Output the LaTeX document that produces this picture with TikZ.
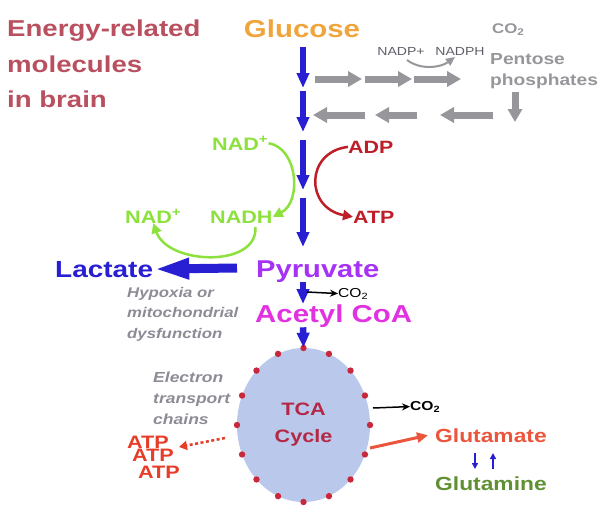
\documentclass[tikz,border=0pt]{standalone}
\usepackage{fontspec}
\setmainfont[FakeStretch=1.2]{Liberation Sans}
\usetikzlibrary{arrows.meta,shapes.geometric}

\definecolor{titlered}{RGB}{185,80,95}
\definecolor{glucorange}{RGB}{240,165,60}
\definecolor{pathblue}{RGB}{40,30,210}
\definecolor{ppgray}{RGB}{150,150,155}
\definecolor{ppdark}{RGB}{95,95,105}
\definecolor{nadgreen}{RGB}{140,225,60}
\definecolor{adpred}{RGB}{190,30,40}
\definecolor{pyrpurple}{RGB}{165,50,245}
\definecolor{acetylpink}{RGB}{225,50,225}
\definecolor{notegray}{RGB}{140,140,150}
\definecolor{tcafill}{RGB}{185,200,235}
\definecolor{tcadot}{RGB}{200,40,60}
\definecolor{tcatext}{RGB}{180,40,70}
\definecolor{atporange}{RGB}{230,60,40}
\definecolor{glutred}{RGB}{235,85,60}
\definecolor{glutgreen}{RGB}{95,145,50}

\newcommand{\fsz}[2]{\fontsize{#1}{#2}\selectfont}

\tikzset{
	txt/.style={inner sep=0pt, font=\bfseries},
	bluearr/.style={draw=pathblue, line width=6.5pt, -{Triangle[width=12pt,length=15pt]}},
	grayarr/.style={draw=ppgray, line width=7pt, -{Triangle[width=15pt,length=14pt]}},
	curvearr/.style={line width=2.5pt, -{Triangle[width=10pt,length=10pt]}},
	thinarr/.style={line width=1.5pt, -{Stealth[width=7pt,length=8pt]}}
}

\begin{document}
\begin{tikzpicture}[x=1pt, y=-1pt]
	\useasboundingbox (0,0) rectangle (605,512);
	
	% Title
	\node[txt, titlered, anchor=north west, align=left, font=\bfseries\fsz{23}{35.5}] (title) at (7,20)
		{Energy-related\\molecules\\in brain};
	
	% Glucose and the blue column
	\node[txt, glucorange, anchor=base, font=\bfseries\fsz{24.5}{28}] (glucose) at (302,37) {Glucose};
	\coordinate (col) at (303,0);
	\coordinate (b1) at (303,47);
	\coordinate (b2) at (303,88);
	\coordinate (b3) at (303,91);
	\coordinate (b4) at (303,132);
	\coordinate (b5) at (303,140);
	\coordinate (b6) at (303,190);
	\coordinate (b7) at (303,198);
	\coordinate (b8) at (303,247);
	\draw[bluearr] (b1) -- (b2);
	\draw[bluearr] (b3) -- (b4);
	\draw[bluearr] (b5) -- (b6);
	\draw[bluearr] (b7) -- (b8);
	
	% Pentose phosphate shunt
	\foreach \x in {315,365,414} {
		\draw[grayarr] (\x,79) -- ++(47,0);
	}
	\foreach \x/\y in {365/313, 417/375, 493/440} {
		\draw[grayarr] (\x,115) -- (\y,115);
	}
	\node[txt, ppdark, anchor=base, font=\fsz{11.7}{14}] (nadp) at (401,55) {NADP+};
	\node[txt, ppdark, anchor=base, font=\fsz{11.7}{14}] (nadph) at (460,55) {NADPH};
	\draw[ppgray, line width=2pt, -{Triangle[width=8pt,length=9pt]}]
		(407,60) .. controls (420,70) and (440,68) .. (455,57);
	\node[txt, ppgray, anchor=base west, font=\bfseries\fsz{14}{16}] (co2pp) at (492,33) {CO\textsubscript{2}};
	\node[txt, ppgray, anchor=north west, align=left, font=\bfseries\fsz{16}{21}] (pentose) at (490,53.5)
		{Pentose\\phosphates};
	\draw[draw=ppgray, line width=7pt, -{Triangle[width=14pt,length=13pt]}] (515,92) -- (515,122);
	
	% NAD+/NADH and ADP/ATP
	\node[txt, nadgreen, anchor=base west, font=\bfseries\fsz{18}{20}] (nadtop) at (212,150) {NAD\textsuperscript{+}};
	\node[txt, nadgreen, anchor=base west, font=\bfseries\fsz{18}{20}] (nadh) at (210,223) {NADH};
	\node[txt, nadgreen, anchor=base west, font=\bfseries\fsz{18}{20}] (nadleft) at (125,223) {NAD\textsuperscript{+}};
	\draw[curvearr, nadgreen] (nadtop.east) .. controls (298,148) and (302,202) .. (nadh.east);
	\draw[curvearr, nadgreen] (nadh.south) ++(14,4) .. controls (258,268) and (168,265) .. (nadleft.south);
	\node[txt, adpred, anchor=base west, font=\bfseries\fsz{17.8}{20}] (adp) at (348,153) {ADP};
	\node[txt, adpred, anchor=base west, font=\bfseries\fsz{17.8}{20}] (atp) at (353,223) {ATP};
	\draw[curvearr, adpred] (adp.west) .. controls (305,152) and (305,208) .. (atp.west);
	
	% Pyruvate, lactate, acetyl CoA
	\node[txt, pyrpurple, anchor=base west, font=\bfseries\fsz{24.3}{28}] (pyruvate) at (256,277) {Pyruvate};
	\node[txt, pathblue, anchor=base west, font=\bfseries\fsz{23.3}{28}] (lactate) at (55,277) {Lactate};
	\coordinate (lacstart) at (237,268);
	\draw[draw=pathblue, line width=9pt, -{Triangle[width=19pt,length=36pt]}] (lacstart) -- (lactate.east);
	\node[txt, black, anchor=base west, font=\fsz{13}{15}] (co2a) at (338,297) {CO\textsubscript{2}};
	\node[txt, acetylpink, anchor=base west, font=\bfseries\fsz{24.5}{28}] (acetyl) at (255,322) {Acetyl CoA};
	\draw[bluearr] (pyruvate.south -| col) -- (acetyl.north -| col);
	\draw[thinarr, black] (307,292) -- (co2a.west);
	\node[txt, notegray, anchor=north west, align=left, font=\bfseries\itshape\fsz{14}{20.5}] (hypoxia) at (127,287)
		{Hypoxia or\\mitochondrial\\dysfunction};
	
	% TCA cycle
	\node[ellipse, fill=tcafill, inner sep=0pt, minimum width=133pt, minimum height=154pt,
		align=center, text=tcatext, font=\bfseries\fsz{18}{27}] (tca) at (303.5,425) {TCA\\Cycle};
	\foreach \a in {0,22.5,...,337.5} {
		\fill[tcadot] ([shift={(\a+90:66.5 and 77)}]tca.center) circle (3.2);
	}
	\draw[bluearr] (acetyl.south -| col) -- (tca.north);
	
	% Electron transport and ATP
	\node[txt, notegray, anchor=north west, align=left, font=\bfseries\itshape\fsz{14.6}{21}] (etc) at (153,372)
		{Electron\\transport\\chains};
	\node[txt, atporange, anchor=base west, font=\bfseries\fsz{18}{20}] (atp1) at (127,448) {ATP};
	\node[txt, atporange, anchor=base west, font=\bfseries\fsz{18}{20}] (atp2) at (132,461) {ATP};
	\node[txt, atporange, anchor=base west, font=\bfseries\fsz{18}{20}] (atp3) at (138,478) {ATP};
	\coordinate (etcstart) at (225,438);
	\coordinate (etcend) at (179,447);
	\draw[atporange, line width=2.5pt, dash pattern=on 3pt off 2.5pt, -{Triangle[width=9pt,length=8pt]}]
		(etcstart) -- (etcend);
	
	% Products of the cycle
	\node[txt, black, anchor=base west, font=\bfseries\fsz{13}{15}] (co2b) at (410,410) {CO\textsubscript{2}};
	\draw[thinarr, black] (373,408) -- (co2b.west);
	\node[txt, glutred, anchor=base west, font=\bfseries\fsz{19}{22}] (glutamate) at (435,442) {Glutamate};
	\node[txt, glutgreen, anchor=base west, font=\bfseries\fsz{19}{22}] (glutamine) at (435,490) {Glutamine};
	\draw[glutred, line width=3pt, -{Triangle[width=10pt,length=11pt]}] (370,448) -- ([xshift=-7pt]glutamate.west);
	\draw[pathblue, line width=1.5pt, -{Triangle[width=6pt,length=6pt]}] (475,453) -- (475,469);
	\draw[pathblue, line width=1.5pt, -{Triangle[width=6pt,length=6pt]}] (493,469) -- (493,453);
	
\end{tikzpicture}
\end{document}
